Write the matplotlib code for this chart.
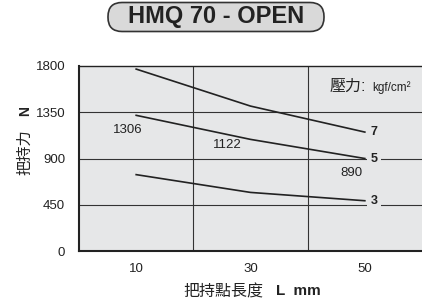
import matplotlib
matplotlib.use("Agg")
import matplotlib.pyplot as plt
from matplotlib.patches import FancyBboxPatch

plt.rcParams['font.family'] = ['Liberation Sans', 'Noto Sans CJK TC', 'DejaVu Sans']

# Data
lengths = [10, 30, 50]
force_p7 = [1770, 1410, 1157]
force_p5 = [1320, 1086, 900]
force_p3 = [743, 570, 489]
pressures = ["7", "5", "3"]
yticks = [0, 450, 900, 1350, 1800]
xticks = [10, 30, 50]
point_labels = [(10, 1306), (30, 1122), (50, 890)]

BG = "#e6e7e8"
DARK = "#222222"

fig = plt.figure(figsize=(4.22, 3.08), dpi=100)
ax = fig.add_axes([79/422, 57/308, 343/422, 185/308])
ax.set_facecolor(BG)
ax.set_xlim(0, 60)
ax.set_ylim(0, 1800)

for xv in (20, 40):
    ax.axvline(xv, color="#333333", lw=0.8, zorder=1)
for yv in (450, 900, 1350):
    ax.axhline(yv, color="#333333", lw=0.8, zorder=1)

for series, lab in zip([force_p7, force_p5, force_p3], pressures):
    ax.plot(lengths, series, color=DARK, lw=1.2, zorder=3)
    ax.text(lengths[-1] + 1.6, series[-1], lab, ha="center", va="center",
            fontsize=9, fontweight="bold", color=DARK, zorder=4,
            bbox=dict(boxstyle="square,pad=0.25", fc=BG, ec="none"))

label_offsets = [(-1.4, -130), (-4.0, -88), (-2.3, -127)]
for (xv, val), (dx, dy) in zip(point_labels, label_offsets):
    ax.text(xv + dx, val + dy, str(val), ha="center", va="center",
            fontsize=9.5, color="#222222", zorder=4)

ax.text(43.8, 1560, "壓力:", ha="left", va="baseline", fontsize=11.5,
        color="#222222")
ax.text(51.3, 1560, "kgf/cm²", ha="left", va="baseline", fontsize=8.5,
        color="#222222")

ax.set_xticks(xticks)
ax.set_yticks(yticks)
ax.set_xticklabels([str(v) for v in xticks], fontsize=9.5, color="#222222")
ax.set_yticklabels([str(v) for v in yticks], fontsize=9.5, color="#222222")
ax.tick_params(length=0, pad=9)
ax.tick_params(axis="y", pad=10)

for s in ("left", "bottom"):
    ax.spines[s].set_linewidth(1.5)
    ax.spines[s].set_color(DARK)
ax.spines["top"].set_linewidth(1.0)
ax.spines["top"].set_color(DARK)
ax.spines["right"].set_visible(False)

# y label
fig.text(25/422, 1 - 152/308, "把持力", rotation=90, ha="center", va="center",
         fontsize=11, color="#222222")
fig.text(25/422, 1 - 111/308, "N", rotation=90, ha="center", va="center",
         fontsize=10, fontweight="bold", color="#222222")

# x label
fig.text(263/422, 1 - 292/308, "把持點長度", ha="right", va="center",
         fontsize=11.5, color="#222222")
fig.text(276/422, 1 - 291/308, "L  mm", ha="left", va="center",
         fontsize=11, fontweight="bold", color="#222222")

# title box drawn in a pixel-coordinate overlay
ov = fig.add_axes([0, 0, 1, 1], zorder=-1)
ov.set_xlim(0, 422)
ov.set_ylim(308, 0)
ov.axis("off")
box = FancyBboxPatch((108, 2.5), 216, 29,
                     boxstyle="round,pad=0,rounding_size=14",
                     fc="#d9d9d9", ec="#333333", lw=1.2)
ov.add_patch(box)
fig.text(216/422, 1 - 17/308, "HMQ 70 - OPEN", ha="center", va="center",
         fontsize=17, fontweight="bold", color="#222222")

fig.savefig("out.png", dpi=100)
